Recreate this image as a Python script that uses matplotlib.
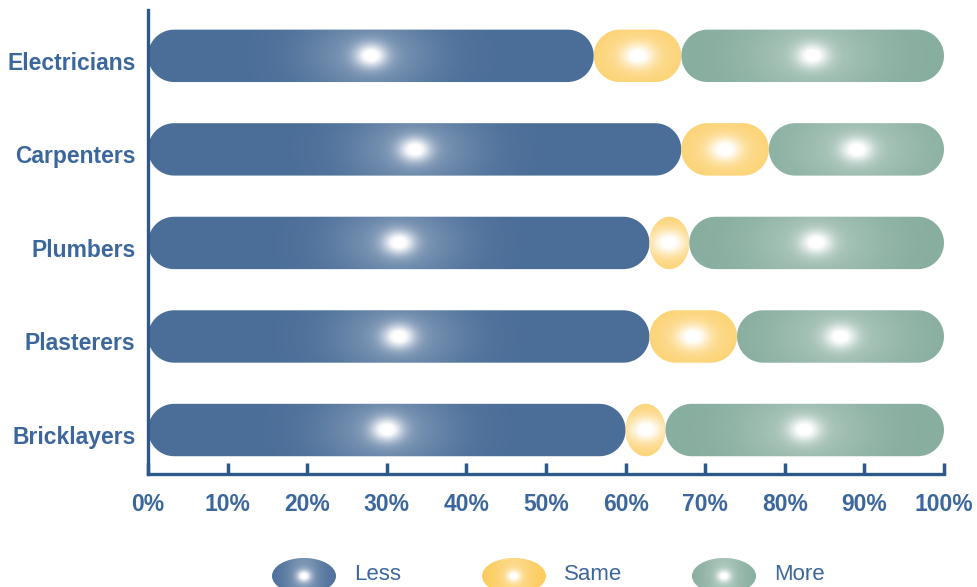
import numpy as np
import matplotlib
matplotlib.use('Agg')
import matplotlib.pyplot as plt
import matplotlib.transforms as mtransforms
from matplotlib.patches import Polygon, Ellipse

plt.rcParams['font.family'] = ['Liberation Sans', 'DejaVu Sans']

# data (percent of respondents)
trades = ['Electricians', 'Carpenters', 'Plumbers', 'Plasterers', 'Bricklayers']
less = [56, 67, 63, 63, 60]
same = [11, 11, 5, 11, 5]
more = [33, 22, 32, 26, 35]
series_names = ['Less', 'Same', 'More']
series_colors = ['#4b6e98', '#fccb5c', '#88ae9f']

label_color = '#3b679c'
spine_color = '#2c5989'

W, H = 978, 587
fig = plt.figure(figsize=(W / 100, H / 100), dpi=100)
ax_l, ax_r, ax_b, ax_t = 148, 944, 113, 577   # pixel box of the plot area
ax = fig.add_axes([ax_l / W, ax_b / H, (ax_r - ax_l) / W, (ax_t - ax_b) / H])
ax.set_xlim(0, 100)
ax.set_ylim(-0.47, len(trades) - 1 + 0.49)

# pixels per data unit, used to keep the rounded ends circular
px_x = (ax_r - ax_l) / 100
px_y = (ax_t - ax_b) / (len(trades) - 1 + 0.49 + 0.47)

bar_h = 0.56


def capsule(x0, x1, yc, h):
    ry = h / 2
    rx = min(ry * px_y / px_x, (x1 - x0) / 2)
    t = np.linspace(-np.pi / 2, np.pi / 2, 40)
    right = np.column_stack([x1 - rx + rx * np.cos(t), yc + ry * np.sin(t)])
    t2 = np.linspace(np.pi / 2, 3 * np.pi / 2, 40)
    left = np.column_stack([x0 + rx + rx * np.cos(t2), yc + ry * np.sin(t2)])
    return np.vstack([right, left])


def glow_image(w_px, h_px, band_w=65.0, core_w=16.0, core_h=12.0, n=160, m=48):
    # white highlight, brightest in the middle of the shape
    dx = np.linspace(-w_px / 2, w_px / 2, n)[None, :]
    dy = np.linspace(-h_px / 2, h_px / 2, m)[:, None]
    band = 0.30 * np.exp(-(dx / band_w) ** 2) * np.exp(-(dy / 40.0) ** 2)
    core = 0.85 * np.exp(-(dx / core_w) ** 2 - (dy / core_h) ** 2)
    a = np.clip(band + core, 0, 1)
    img = np.ones((m, n, 4))
    img[..., 3] = a
    return img


y_pos = np.arange(len(trades))[::-1]
for i, name in enumerate(trades):
    starts = [0, less[i], less[i] + same[i]]
    widths = [less[i], same[i], more[i]]
    for s, w, c in zip(starts, widths, series_colors):
        poly = Polygon(capsule(s, s + w, y_pos[i], bar_h), closed=True,
                       facecolor=c, edgecolor='none', zorder=2)
        ax.add_patch(poly)
        im = ax.imshow(glow_image(w * px_x, bar_h * px_y),
                       extent=[s, s + w, y_pos[i] - bar_h / 2, y_pos[i] + bar_h / 2],
                       aspect='auto', interpolation='bilinear', zorder=3)
        im.set_clip_path(poly)

ax.set_xlim(0, 100)
ax.set_ylim(-0.47, len(trades) - 1 + 0.49)

ax.set_yticks(y_pos)
ax.set_yticklabels(trades)
ax.set_xticks(np.arange(0, 101, 10))
ax.set_xticklabels([f'{v}%' for v in range(0, 101, 10)])
ax.tick_params(axis='y', length=0, pad=9, labelsize=16.5, labelcolor=label_color)
ax.tick_params(axis='x', direction='in', length=8, width=2.5, color=spine_color,
               pad=14, labelsize=16.5, labelcolor=label_color)
# category names sit a little below the bar centres in the original
shift = mtransforms.ScaledTranslation(0, -5 / 100, fig.dpi_scale_trans)
for lab in ax.get_yticklabels():
    lab.set_fontweight('bold')
    lab.set_transform(lab.get_transform() + shift)
for lab in ax.get_xticklabels():
    lab.set_fontweight('bold')

for side in ['top', 'right']:
    ax.spines[side].set_visible(False)
for side in ['left', 'bottom']:
    ax.spines[side].set_color(spine_color)
    ax.spines[side].set_linewidth(2.4)

# legend drawn in pixel space at the bottom
lg = fig.add_axes([0, 0, 1, 1])
lg.axis('off')
leg_x = [304, 514, 724]
for x, c, name in zip(leg_x, series_colors, series_names):
    e = Ellipse((x, 576), 64, 36, facecolor=c, edgecolor='none', zorder=2)
    lg.add_patch(e)
    im = lg.imshow(glow_image(64, 36, band_w=20, core_w=7, core_h=6),
                   extent=[x - 32, x + 32, 594, 558],
                   aspect='auto', interpolation='bilinear', zorder=3)
    im.set_clip_path(e)
    lg.text(x + 50, 574, name, fontsize=16, color=label_color, va='center', ha='left')
lg.set_xlim(0, W)
lg.set_ylim(H, 0)

fig.savefig('out.png', dpi=100)
